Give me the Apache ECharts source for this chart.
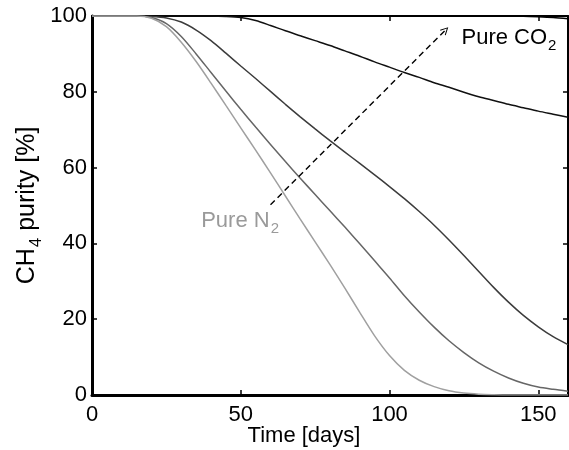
<!DOCTYPE html>
<html>
<head>
<meta charset="utf-8">
<script src="https://cdn.jsdelivr.net/npm/echarts@6/dist/echarts.min.js"></script>
<style>
  html, body { margin: 0; padding: 0; background: #fff; }
  #chart { width: 569px; height: 450px; }
</style>
</head>
<body>
<div id="chart"></div>
<script>
// Time axis (days) and CH4 purity (%) for each injected gas mixture
const days = [0, 5, 10, 15, 20, 25, 30, 35, 40, 45, 50, 55, 60, 65, 70, 75, 80,
  85, 90, 95, 100, 105, 110, 115, 120, 125, 130, 135, 140, 145, 150, 155, 160];

const purityPureCO2 = [100, 100, 100, 100, 100, 100, 100, 100, 100, 100, 100, 100,
  100, 100, 100, 100, 100, 100, 100, 100, 100, 100, 100, 100, 100, 100, 100, 100,
  100, 99.95, 99.8, 99.6, 99.3];
const purityMixA = [100, 100, 100, 100, 100, 100, 100, 100, 100, 99.9, 99.6, 98.8,
  97.5, 96.1, 94.8, 93.5, 92.2, 90.8, 89.4, 87.9, 86.5, 85.1, 83.8, 82.4, 81.2,
  79.9, 78.7, 77.7, 76.7, 75.8, 74.9, 74.1, 73.3];
const purityMixB = [100, 100, 100, 100, 99.9, 99.5, 98.4, 96.3, 93.5, 90.2, 86.8,
  83.5, 80.1, 76.7, 73.4, 70.2, 67.1, 64.1, 61.1, 58.1, 55, 51.8, 48.4, 44.8, 40.9,
  36.8, 32.6, 28.4, 24.5, 21, 18, 15.4, 13.3];
const purityMixC = [100, 100, 100, 100, 99.6, 98, 94.6, 90, 85.1, 80.2, 75.4, 70.7,
  66.1, 61.6, 57.2, 52.9, 48.6, 44.3, 39.9, 35.4, 30.9, 26.2, 21.9, 17.9, 14.3,
  11.2, 8.5, 6.3, 4.5, 3.1, 2.1, 1.5, 1.0];
const purityPureN2 = [100, 100, 100, 100, 99.4, 97.2, 93.1, 88, 82.3, 76.4, 70.5,
  64.6, 58.6, 52.5, 46.4, 40.4, 34.4, 28.2, 21.8, 15.6, 10.4, 6.5, 3.9, 2.2, 1.1,
  0.5, 0.2, 0.07, 0, 0, 0, 0, 0];

// Axis ticks
const xTicks = { min: 0, max: 160, interval: 50 };
const yTicks = { min: 0, max: 100, interval: 20 };

// Annotation: dashed arrow from the N2 end toward the CO2 end (data coords)
const arrowFrom = [60, 50.2];
const arrowTo = [118.8, 96.3];
const labelCO2At = [124.2, 93.9];
const labelN2At = [36.7, 45.6];

const FONT = "'Liberation Sans', Arial, Helvetica, sans-serif";

function pairs(ys) { return days.map((d, i) => [d, ys[i]]); }

const textRich = (color, size) => ({
  n: { fontFamily: FONT, fontSize: size, color: color, lineHeight: size + 2, verticalAlign: 'top' },
  s: { fontFamily: FONT, fontSize: Math.round(size * 0.68), color: color,
       lineHeight: Math.round(size * 0.68), verticalAlign: 'top',
       padding: [Math.round(size * 0.5), 0, 0, 1] }
});

function curve(name, ys, color) {
  return {
    name: name,
    type: 'line',
    data: pairs(ys),
    smooth: 0.3,
    showSymbol: false,
    symbol: 'none',
    lineStyle: { color: color, width: 1.5 },
    itemStyle: { color: color },
    z: 3,
    emphasis: { disabled: true }
  };
}

const seriesCO2 = curve('Pure CO2', purityPureCO2, '#000000');
seriesCO2.markPoint = {
  symbol: 'circle', symbolSize: 0, silent: true,
  label: { show: true, position: 'right', distance: 0, formatter: '{n|Pure CO}{s|2}', rich: textRich('#000000', 22) },
  data: [{ coord: labelCO2At }]
};
seriesCO2.markLine = {
  silent: true,
  symbol: ['none', 'path://M0,12 L6,0 L12,12 L10.6,12.7 L6,3.2 L1.4,12.7 Z'],
  symbolSize: [8, 8],
  lineStyle: { color: '#000', type: [6, 4], width: 1.4 },
  label: { show: false },
  data: [[{ coord: arrowFrom }, { coord: arrowTo }]]
};

const seriesN2 = curve('Pure N2', purityPureN2, '#a0a0a0');
seriesN2.markPoint = {
  symbol: 'circle', symbolSize: 0, silent: true,
  label: { show: true, position: 'right', distance: 0, formatter: '{n|Pure N}{s|2}', rich: textRich('#9a9a9a', 22) },
  data: [{ coord: labelN2At }]
};

const chart = echarts.init(document.getElementById('chart'), null, { renderer: 'canvas' });

chart.setOption({
  animation: false,
  backgroundColor: '#ffffff',
  grid: { left: 92, right: 1, top: 16, bottom: 55, containLabel: false, outerBoundsMode: 'none' },
  xAxis: [
    {
      type: 'value', position: 'bottom',
      min: xTicks.min, max: xTicks.max, interval: xTicks.interval,
      name: 'Time [days]', nameLocation: 'middle', nameGap: 30, nameMoveOverlap: false,
      nameTextStyle: { fontFamily: FONT, fontSize: 22, color: '#000', padding: [0, 52, 0, 0] },
      axisLine: { show: true, onZero: false, lineStyle: { color: '#000', width: 3 } },
      axisTick: { show: true, inside: true, length: 5, lineStyle: { color: '#000', width: 1.5 } },
      axisLabel: { fontFamily: FONT, fontSize: 22, color: '#000', margin: 9, showMaxLabel: false },
      splitLine: { show: false }
    },
    {
      type: 'value', position: 'top',
      min: xTicks.min, max: xTicks.max, interval: xTicks.interval,
      axisLine: { show: true, onZero: false, lineStyle: { color: '#000', width: 2 } },
      axisTick: { show: true, inside: true, length: 5, lineStyle: { color: '#000', width: 1.5 } },
      axisLabel: { show: false },
      splitLine: { show: false }
    }
  ],
  yAxis: [
    {
      type: 'value', position: 'left',
      min: yTicks.min, max: yTicks.max, interval: yTicks.interval,
      name: '{n|CH}{s|4}{n| purity [%]}', nameLocation: 'middle', nameGap: 50, nameMoveOverlap: false,
      nameTextStyle: { rich: textRich('#000000', 25) },
      axisLine: { show: true, onZero: false, lineStyle: { color: '#000', width: 3 } },
      axisTick: { show: true, inside: true, length: 5, lineStyle: { color: '#000', width: 1.5 } },
      axisLabel: { fontFamily: FONT, fontSize: 22, color: '#000', margin: 5 },
      splitLine: { show: false }
    },
    {
      type: 'value', position: 'right',
      min: yTicks.min, max: yTicks.max, interval: yTicks.interval,
      axisLine: { show: true, onZero: false, lineStyle: { color: '#000', width: 2 } },
      axisTick: { show: true, inside: true, length: 5, lineStyle: { color: '#000', width: 1.5 } },
      axisLabel: { show: false },
      splitLine: { show: false }
    }
  ],
  series: [
    seriesCO2,
    curve('Mix A', purityMixA, '#111111'),
    curve('Mix B', purityMixB, '#3c3c3c'),
    curve('Mix C', purityMixC, '#666666'),
    seriesN2
  ]
});
</script>
</body>
</html>
